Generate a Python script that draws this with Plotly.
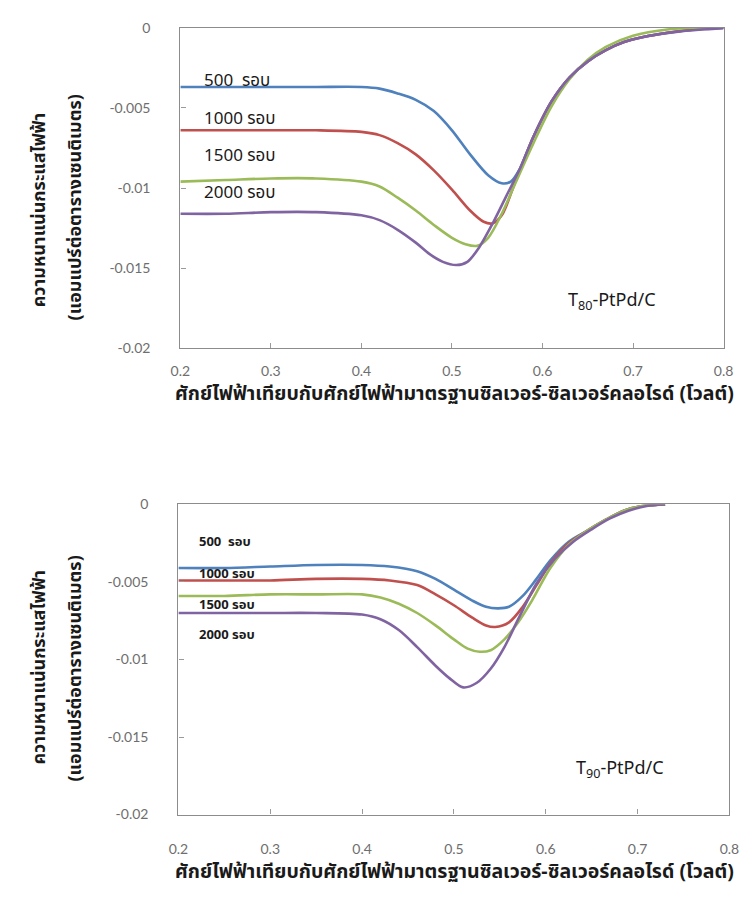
import plotly.graph_objects as go

# ---- T80-PtPd/C : current density vs potential after repeated cycling ----
x80_500 = [0.20, 0.25, 0.30, 0.35, 0.40, 0.42, 0.44, 0.46, 0.48, 0.50, 0.52, 0.54, 0.555, 0.565,
           0.575, 0.59, 0.61, 0.63, 0.65, 0.67, 0.69, 0.71, 0.74, 0.77, 0.80]
y80_500 = [-0.0037, -0.0037, -0.0037, -0.0037, -0.0037, -0.0038, -0.0041, -0.0045, -0.0052, -0.0064,
           -0.0079, -0.0092, -0.0097, -0.0096, -0.0088, -0.0068, -0.0046, -0.0031, -0.0021, -0.0014,
           -0.0009, -0.0006, -0.0003, -0.0001, 0.0]

x80_1000 = [0.20, 0.25, 0.30, 0.35, 0.40, 0.42, 0.44, 0.46, 0.48, 0.50, 0.52, 0.535, 0.545, 0.555,
            0.57, 0.59, 0.61, 0.63, 0.65, 0.67, 0.69, 0.71, 0.74, 0.77, 0.80]
y80_1000 = [-0.0064, -0.0064, -0.0064, -0.0064, -0.0065, -0.0067, -0.0072, -0.0079, -0.0089, -0.0101,
            -0.0114, -0.0121, -0.0122, -0.0117, -0.0096, -0.0068, -0.0046, -0.0031, -0.0021, -0.0014,
            -0.0009, -0.0006, -0.0003, -0.0001, 0.0]

x80_1500 = [0.20, 0.25, 0.30, 0.35, 0.40, 0.42, 0.44, 0.46, 0.48, 0.50, 0.515, 0.528, 0.54, 0.555,
            0.57, 0.59, 0.61, 0.63, 0.65, 0.67, 0.70, 0.74, 0.77, 0.80]
y80_1500 = [-0.0096, -0.0095, -0.0094, -0.0094, -0.0096, -0.0099, -0.0106, -0.0114, -0.0123, -0.0131,
            -0.0135, -0.0136, -0.0131, -0.0116, -0.0097, -0.0072, -0.0049, -0.0032, -0.0020, -0.0012,
            -0.0005, -0.0001, 0.0, 0.0]

x80_2000 = [0.20, 0.25, 0.30, 0.35, 0.40, 0.42, 0.44, 0.46, 0.475, 0.49, 0.505, 0.517, 0.53, 0.545,
            0.56, 0.575, 0.59, 0.61, 0.63, 0.65, 0.67, 0.69, 0.71, 0.75, 0.80]
y80_2000 = [-0.0116, -0.0116, -0.0115, -0.0115, -0.0117, -0.0120, -0.0126, -0.0134, -0.0141, -0.0146,
            -0.0148, -0.0146, -0.0137, -0.0122, -0.0105, -0.0088, -0.0068, -0.0046, -0.0031, -0.0021,
            -0.0014, -0.0009, -0.0006, -0.00025, -0.00004]

# ---- T90-PtPd/C ----
x90_500 = [0.20, 0.25, 0.30, 0.35, 0.40, 0.43, 0.46, 0.48, 0.50, 0.52, 0.535, 0.548, 0.56, 0.575,
           0.59, 0.605, 0.625, 0.645, 0.665, 0.685, 0.705, 0.73]
y90_500 = [-0.0041, -0.0041, -0.0040, -0.0039, -0.0039, -0.0040, -0.0043, -0.0048, -0.0055, -0.0062,
           -0.0066, -0.0067, -0.0066, -0.0059, -0.0048, -0.0036, -0.0024, -0.0017, -0.0010, -0.0004,
           -0.0001, 0.0]

x90_1000 = [0.20, 0.25, 0.30, 0.35, 0.40, 0.43, 0.46, 0.48, 0.50, 0.52, 0.535, 0.545, 0.56, 0.575,
            0.59, 0.605, 0.625, 0.645, 0.665, 0.685, 0.705, 0.73]
y90_1000 = [-0.0049, -0.0049, -0.0049, -0.0048, -0.0048, -0.0049, -0.0052, -0.0058, -0.0065, -0.0073,
            -0.0078, -0.0079, -0.0076, -0.0066, -0.0052, -0.0038, -0.0025, -0.0017, -0.0010, -0.0004,
            -0.0001, 0.0]

x90_1500 = [0.20, 0.25, 0.30, 0.35, 0.40, 0.42, 0.44, 0.46, 0.48, 0.50, 0.515, 0.528, 0.54, 0.555,
            0.57, 0.585, 0.605, 0.625, 0.645, 0.665, 0.685, 0.705, 0.73]
y90_1500 = [-0.0059, -0.0059, -0.0058, -0.0058, -0.0058, -0.0060, -0.0064, -0.0070, -0.0078, -0.0087,
            -0.0093, -0.0095, -0.0094, -0.0087, -0.0076, -0.0062, -0.0041, -0.0026, -0.0017, -0.0010,
            -0.0004, -0.0001, 0.0]

x90_2000 = [0.20, 0.25, 0.30, 0.35, 0.40, 0.42, 0.44, 0.46, 0.48, 0.495, 0.51, 0.525, 0.54, 0.555,
            0.57, 0.59, 0.61, 0.63, 0.65, 0.67, 0.69, 0.71, 0.73]
y90_2000 = [-0.0070, -0.0070, -0.0070, -0.0070, -0.0071, -0.0074, -0.0081, -0.0092, -0.0104, -0.0112,
            -0.0118, -0.0115, -0.0106, -0.0092, -0.0074, -0.0051, -0.0035, -0.0024, -0.0016, -0.0009,
            -0.0004, -0.0001, 0.0]

cycle_labels = ["500  รอบ", "1000 รอบ", "1500 รอบ", "2000 รอบ"]
colors = ["#4F81BD", "#C0504D", "#9BBB59", "#8064A2"]

x_ticks = [0.2, 0.3, 0.4, 0.5, 0.6, 0.7, 0.8]
x_ticktext = ["0.2", "0.3", "0.4", "0.5", "0.6", "0.7", "0.8"]
y_ticks = [0, -0.005, -0.01, -0.015, -0.02]
y_ticktext = ["0", "-0.005", "-0.01", "-0.015", "-0.02"]

x_title = "ศักย์ไฟฟ้าเทียบกับศักย์ไฟฟ้ามาตรฐานซิลเวอร์-ซิลเวอร์คลอไรด์ (โวลต์)"
y_title_1 = "ความหนาแน่นกระแสไฟฟ้า"
y_title_2 = "(แอมแปร์ต่อตารางเซนติเมตร)"

W, H = 754, 902
THAI = "Tahoma, 'Noto Sans Thai', 'Noto Sans', sans-serif"
TICKFONT = dict(family="Lato, 'Open Sans', sans-serif", size=14, color="#6E6E6E")
INK = "#1A1A1A"

fig = go.Figure()

top_series = [(x80_500, y80_500), (x80_1000, y80_1000), (x80_1500, y80_1500), (x80_2000, y80_2000)]
bot_series = [(x90_500, y90_500), (x90_1000, y90_1000), (x90_1500, y90_1500), (x90_2000, y90_2000)]

for (xs, ys), c, name in zip(top_series, colors, cycle_labels):
    fig.add_trace(go.Scatter(x=xs, y=ys, mode="lines", name=name, xaxis="x", yaxis="y",
                             line=dict(color=c, width=2.6, shape="spline", smoothing=0.9),
                             showlegend=False))
for (xs, ys), c, name in zip(bot_series, colors, cycle_labels):
    fig.add_trace(go.Scatter(x=xs, y=ys, mode="lines", name=name, xaxis="x2", yaxis="y2",
                             line=dict(color=c, width=2.6, shape="spline", smoothing=0.9),
                             showlegend=False))


def px_x(p):
    return p / W


def px_y(p):
    return 1 - p / H


axis_common = dict(showgrid=False, zeroline=False, showline=True, linecolor="#8C8C8C", linewidth=1.3,
                   mirror=True, ticks="inside", ticklen=5, tickcolor="#9A9A9A", tickfont=TICKFONT)

top_dom_x = [px_x(175), px_x(733)]
top_dom_y = [px_y(346), px_y(19)]
bot_dom_x = [px_x(173), px_x(739)]
bot_dom_y = [px_y(821), px_y(505)]

fig.update_layout(
    width=W, height=H, margin=dict(l=0, r=0, t=0, b=0),
    paper_bgcolor="white", plot_bgcolor="white",
    xaxis=dict(domain=top_dom_x, range=[0.2, 0.8], tickvals=x_ticks, ticktext=x_ticktext,
               anchor="y", ticklabelstandoff=10, **axis_common),
    yaxis=dict(domain=top_dom_y, range=[-0.02, 0], tickvals=y_ticks, ticktext=y_ticktext,
               anchor="x", ticklabelstandoff=26, **axis_common),
    xaxis2=dict(domain=bot_dom_x, range=[0.2, 0.8], tickvals=x_ticks, ticktext=x_ticktext,
                anchor="y2", ticklabelstandoff=22, **axis_common),
    yaxis2=dict(domain=bot_dom_y, range=[-0.02, 0], tickvals=y_ticks, ticktext=y_ticktext,
                anchor="x2", ticklabelstandoff=26, **axis_common),
)

ann = []
# cycle labels, top panel
for lbl, yv in zip(cycle_labels, [-0.0033, -0.0057, -0.0080, -0.0103]):
    ann.append(dict(x=0.2237, y=yv, xref="x", yref="y", text=lbl, showarrow=False, xanchor="left",
                    yanchor="middle", font=dict(family=THAI, size=17, color=INK)))
# cycle labels, bottom panel
for lbl, yv in zip(cycle_labels, [-0.0024, -0.0045, -0.0065, -0.0084]):
    ann.append(dict(x=0.2201, y=yv, xref="x2", yref="y2", text=lbl, showarrow=False, xanchor="left",
                    yanchor="middle", font=dict(family=THAI, size=13, weight="bold", color=INK)))
# catalyst names
ann.append(dict(x=0.677, y=-0.0171, xref="x", yref="y", text="T<sub>80</sub>-PtPd/C", showarrow=False,
                xanchor="center", yanchor="middle", font=dict(family=THAI, size=18, color=INK)))
ann.append(dict(x=0.681, y=-0.0171, xref="x2", yref="y2", text="T<sub>90</sub>-PtPd/C", showarrow=False,
                xanchor="center", yanchor="middle", font=dict(family=THAI, size=18, color=INK)))
# axis titles
for yc in (392, 880):
    ann.append(dict(x=px_x(457), y=px_y(yc), xref="paper", yref="paper", text=x_title, showarrow=False,
                    xanchor="center", yanchor="middle",
                    font=dict(family=THAI, size=19.5, weight="bold", color=INK)))
for (c1, c2) in ((205, 202), (671, 672)):
    ann.append(dict(x=px_x(30), y=px_y(c1), xref="paper", yref="paper", text=y_title_1, showarrow=False,
                    textangle=-90, xanchor="center", yanchor="middle",
                    font=dict(family=THAI, size=18, weight="bold", color=INK)))
    ann.append(dict(x=px_x(67), y=px_y(c2), xref="paper", yref="paper", text=y_title_2, showarrow=False,
                    textangle=-90, xanchor="center", yanchor="middle",
                    font=dict(family=THAI, size=18, weight="bold", color=INK)))
fig.update_layout(annotations=ann)

fig.write_html("out.html")
